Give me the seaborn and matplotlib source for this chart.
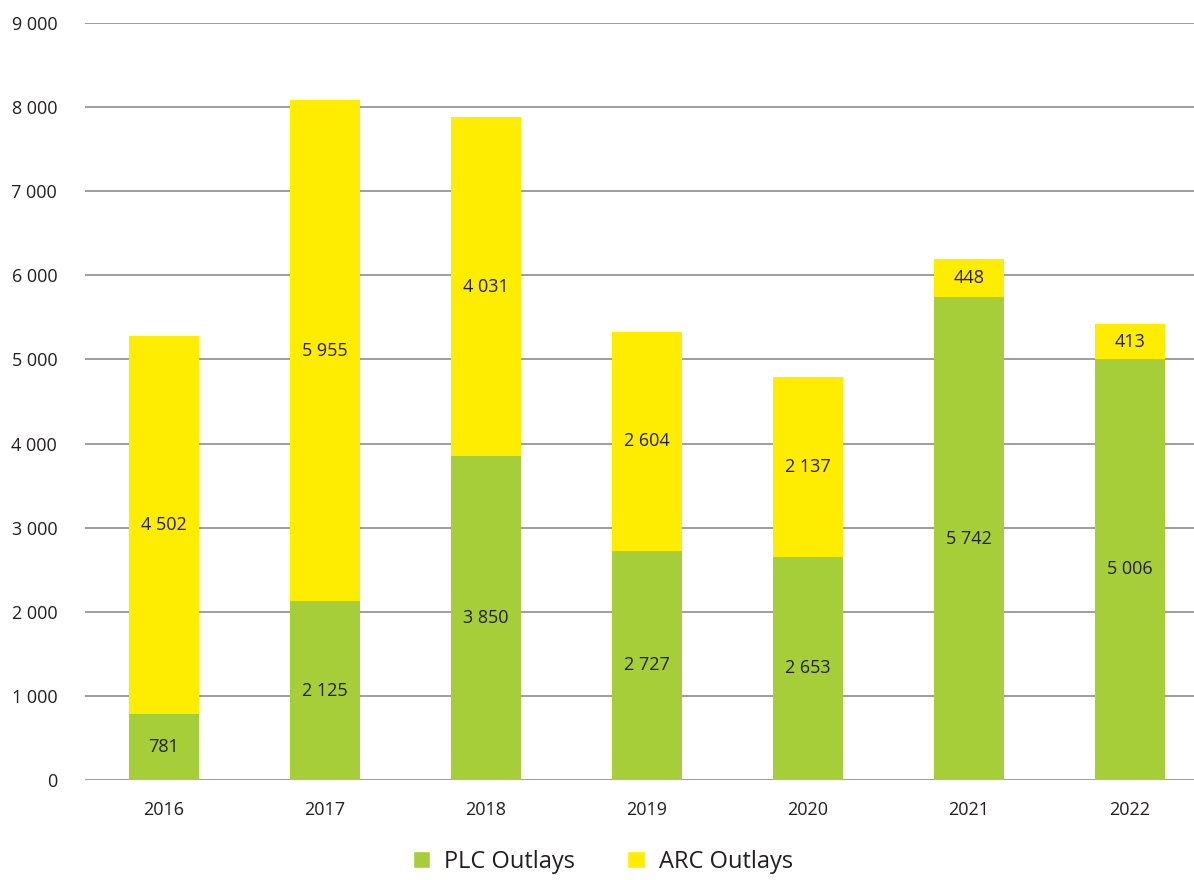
import matplotlib
matplotlib.use("Agg")
import matplotlib.pyplot as plt
import seaborn as sns
import pandas as pd
from matplotlib.patches import Patch

years = ["2016", "2017", "2018", "2019", "2020", "2021", "2022"]
plc = [781, 2125, 3850, 2727, 2653, 5742, 5006]
arc = [4502, 5955, 4031, 2604, 2137, 448, 413]
yticks = [0, 1000, 2000, 3000, 4000, 5000, 6000, 7000, 8000, 9000]

GREEN = "#A6CE39"
YELLOW = "#FFED00"
TEXT = "#231F20"

sns.set_theme(style="white")
plt.rcParams["font.family"] = ["Open Sans", "DejaVu Sans"]

def fmt(v):
    return f"{v:,}".replace(",", " ")

df = pd.DataFrame({"year": years, "plc": plc, "arc": arc})
df["total"] = df["plc"] + df["arc"]

fig = plt.figure(figsize=(11.94, 8.8), dpi=100)
ax = fig.add_axes([85/1194, 100/880, 1 - 85/1194, (780-23)/880])

sns.barplot(data=df, x="year", y="total", color=YELLOW, width=0.435,
            saturation=1, ax=ax, edgecolor="none", linewidth=0)
sns.barplot(data=df, x="year", y="plc", color=GREEN, width=0.435,
            saturation=1, ax=ax, edgecolor="none", linewidth=0)

for i, (p, a) in enumerate(zip(plc, arc)):
    ax.text(i, p / 2, fmt(p), ha="center", va="center", fontsize=13, color=TEXT)
    ax.text(i, p + a / 2, fmt(a), ha="center", va="center", fontsize=13, color=TEXT)

ax.set_ylim(0, 9000)
ax.set_xlim(-0.49, 6.4)
ax.set_yticks(yticks)
ax.set_yticklabels([fmt(v) for v in yticks])
ax.yaxis.grid(True, color="#9D9D9D", linewidth=1.4)
ax.set_axisbelow(True)
for s in ax.spines.values():
    s.set_visible(False)
ax.tick_params(axis="both", length=0, labelsize=13, colors=TEXT)
ax.tick_params(axis="y", pad=20)
ax.tick_params(axis="x", pad=15)
ax.set_xlabel("")
ax.set_ylabel("")

handles = [Patch(facecolor=GREEN, label="PLC Outlays"),
           Patch(facecolor=YELLOW, label="ARC Outlays")]
fig.legend(handles=handles, loc="lower center", ncol=2, frameon=False,
           fontsize=17, bbox_to_anchor=(0.505, -0.017), handlelength=0.75,
           handleheight=0.75, columnspacing=2.2, handletextpad=0.6,
           labelcolor=TEXT)

fig.savefig("out.png", dpi=100)
